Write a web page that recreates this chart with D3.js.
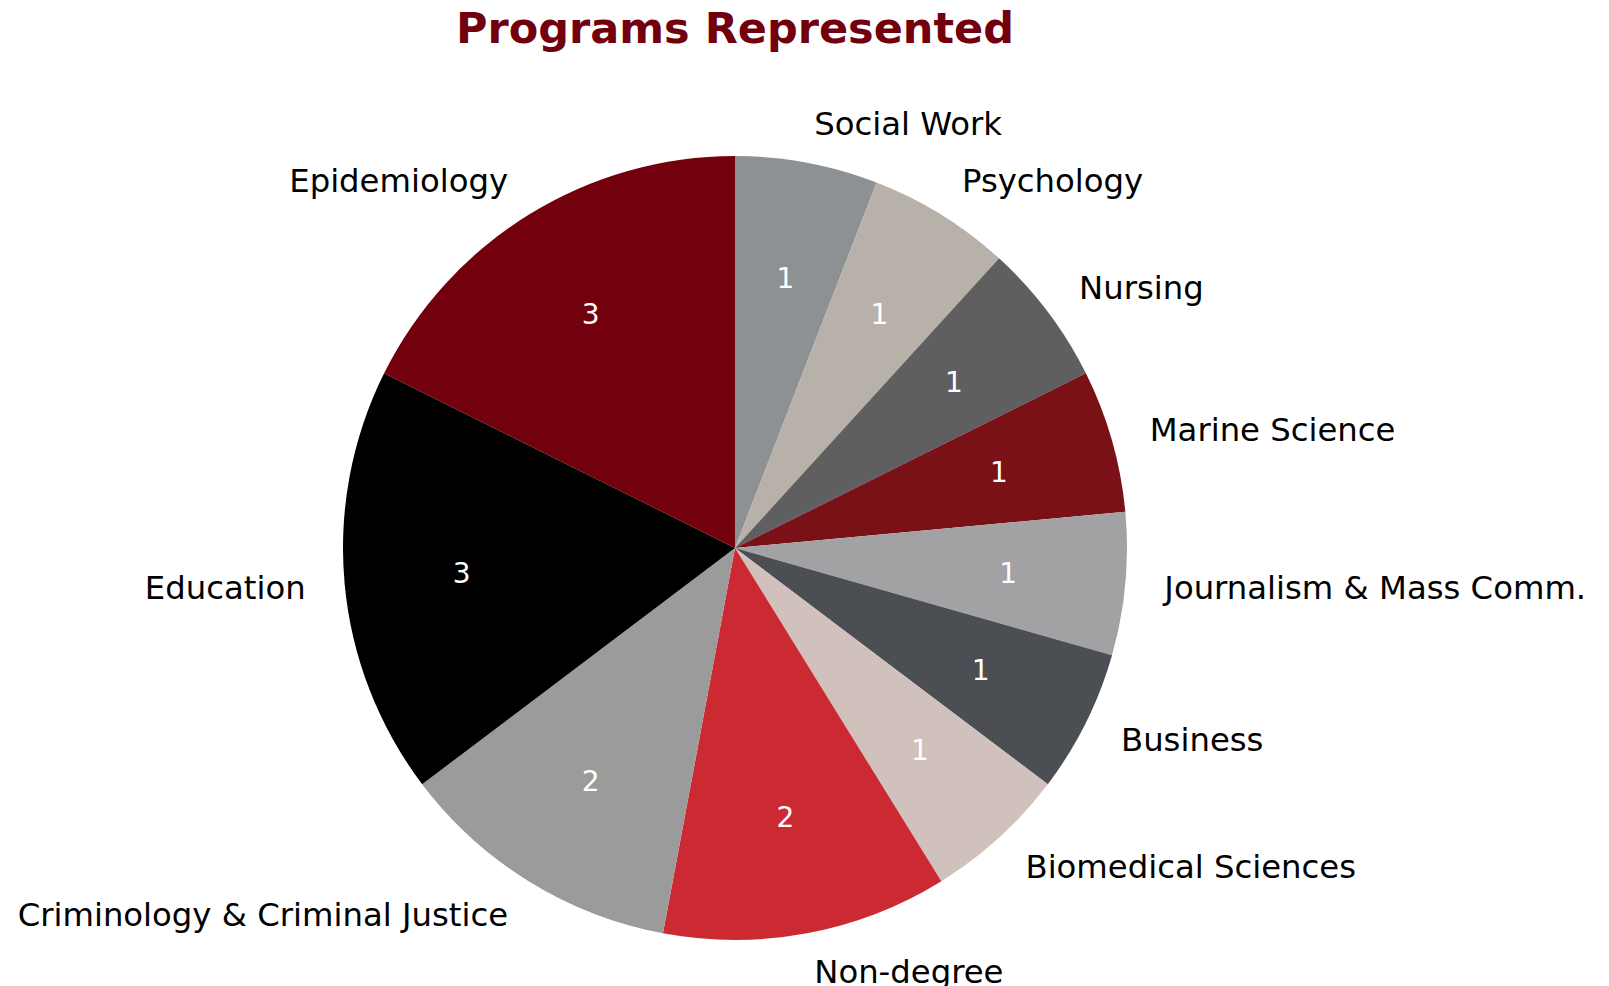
<!DOCTYPE html>
<html>
<head>
<meta charset="utf-8">
<script src="https://cdn.jsdelivr.net/npm/d3@7"></script>
<style>
  body { margin: 0; background: #fff; }
  text { font-family: "DejaVu Sans", sans-serif; }
</style>
</head>
<body>
<script>
const programs = ["Social Work", "Psychology", "Nursing", "Marine Science",
  "Journalism & Mass Comm.", "Business", "Biomedical Sciences", "Non-degree",
  "Criminology & Criminal Justice", "Education", "Epidemiology"];
const counts = [1, 1, 1, 1, 1, 1, 1, 2, 2, 3, 3];
const colors = ["#8d9194", "#b8b1a9", "#5f5f5f", "#7a1116", "#a2a2a4", "#4b4e53",
  "#d0c1bd", "#cc2a32", "#9b9b9b", "#000000", "#73000d"];

const width = 1609, height = 986;
const cx = 735, cy = 548, radius = 392;

const svg = d3.select("body").append("svg")
  .attr("width", width)
  .attr("height", height);

// title
svg.append("text")
  .attr("x", cx)
  .attr("y", 43)
  .attr("text-anchor", "middle")
  .attr("font-size", 43)
  .attr("font-weight", "bold")
  .attr("fill", "#73000d")
  .text("Programs Represented");

const data = programs.map((p, i) => ({ name: p, value: counts[i], color: colors[i] }));

// clockwise from 12 o'clock, keep the given order
const pie = d3.pie().value(d => d.value).sort(null);
const arcs = pie(data);
const arc = d3.arc().innerRadius(0).outerRadius(radius);

const g = svg.append("g").attr("transform", `translate(${cx},${cy})`);

g.selectAll("path.slice")
  .data(arcs)
  .join("path")
  .attr("class", "slice")
  .attr("d", arc)
  .attr("fill", d => d.data.color);

function mid(d) { return (d.startAngle + d.endAngle) / 2; }

// counts inside
g.selectAll("text.val")
  .data(arcs)
  .join("text")
  .attr("class", "val")
  .attr("x", d => 0.7 * radius * Math.sin(mid(d)))
  .attr("y", d => -0.7 * radius * Math.cos(mid(d)))
  .attr("text-anchor", "middle")
  .attr("dominant-baseline", "central")
  .attr("font-size", 28)
  .attr("fill", "#fff")
  .text(d => d.data.value);

// program names outside
g.selectAll("text.lbl")
  .data(arcs)
  .join("text")
  .attr("class", "lbl")
  .attr("x", d => 1.1 * radius * Math.sin(mid(d)))
  .attr("y", d => -1.1 * radius * Math.cos(mid(d)))
  .attr("text-anchor", d => Math.sin(mid(d)) > 0 ? "start" : "end")
  .attr("dominant-baseline", "central")
  .attr("font-size", 32.3)
  .attr("fill", "#000")
  .text(d => d.data.name);
</script>
</body>
</html>
